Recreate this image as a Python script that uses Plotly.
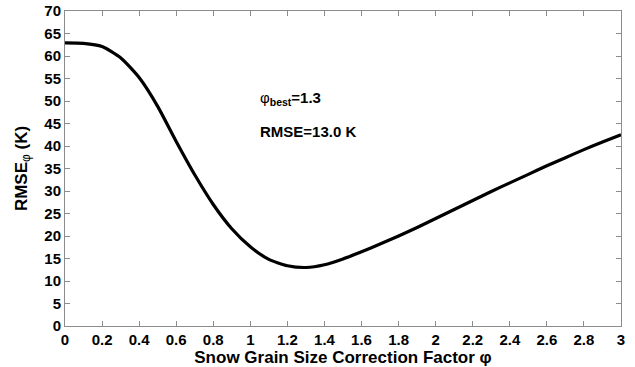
import plotly.graph_objects as go

phi = [0.0, 0.1, 0.2, 0.3, 0.4, 0.5, 0.6, 0.7, 0.8, 0.9, 1.0, 1.1, 1.2, 1.3, 1.4, 1.5,
       1.6, 1.7, 1.8, 1.9, 2.0, 2.1, 2.2, 2.3, 2.4, 2.5, 2.6, 2.7, 2.8, 2.9, 3.0]
rmse = [62.9, 62.8, 62.1, 59.6, 55.2, 48.8, 41.0, 33.6, 27.0, 21.6, 17.6, 14.8, 13.4, 13.0,
        13.6, 14.9, 16.5, 18.2, 20.0, 21.9, 23.9, 25.9, 27.9, 29.9, 31.8, 33.7, 35.6, 37.4,
        39.2, 40.9, 42.5]
xticks = [0, 0.2, 0.4, 0.6, 0.8, 1, 1.2, 1.4, 1.6, 1.8, 2, 2.2, 2.4, 2.6, 2.8, 3]
yticks = list(range(0, 75, 5))

FONT = "Liberation Sans"

fig = go.Figure()
fig.add_trace(go.Scatter(x=phi, y=rmse, mode="lines", line=dict(color="black", width=3.2, shape="spline", smoothing=0.6),
                         showlegend=False))

axis_common = dict(showgrid=False, zeroline=False, showline=True, linecolor="#8c8c8c", linewidth=1,
                   mirror="ticks", ticks="inside", ticklen=5, tickcolor="#8c8c8c", automargin=False,
                   tickfont=dict(family=FONT, size=15, color="black"))

fig.update_xaxes(range=[0, 3], tickvals=xticks, ticktext=[f"<b>{v:g}</b>" for v in xticks],
                 title=dict(text="<b>Snow Grain Size Correction Factor φ</b>", standoff=0,
                            font=dict(family=FONT, size=17, color="black")),
                 **axis_common)
fig.update_yaxes(range=[0, 70], tickvals=yticks, ticktext=[f"<b>{v}</b>" for v in yticks],
                 title=dict(text="<b>RMSE</b><sub>φ</sub> <b>(K)</b>", standoff=12,
                            font=dict(family=FONT, size=17, color="black")),
                 **axis_common)

fig.add_annotation(x=1.04, y=50.5, xref="x", yref="y", xanchor="left", yanchor="middle",
                   text="φ<sub><b>best</b></sub><b>=1.3</b>", showarrow=False,
                   font=dict(family=FONT, size=15, color="black"))
fig.add_annotation(x=1.04, y=43.3, xref="x", yref="y", xanchor="left", yanchor="middle",
                   text="<b>RMSE=13.0 K</b>", showarrow=False,
                   font=dict(family=FONT, size=15, color="black"))

fig.update_layout(width=635, height=367, margin=dict(l=65, r=14, t=11, b=41),
                  paper_bgcolor="white", plot_bgcolor="white")

fig.write_html("out.html")
